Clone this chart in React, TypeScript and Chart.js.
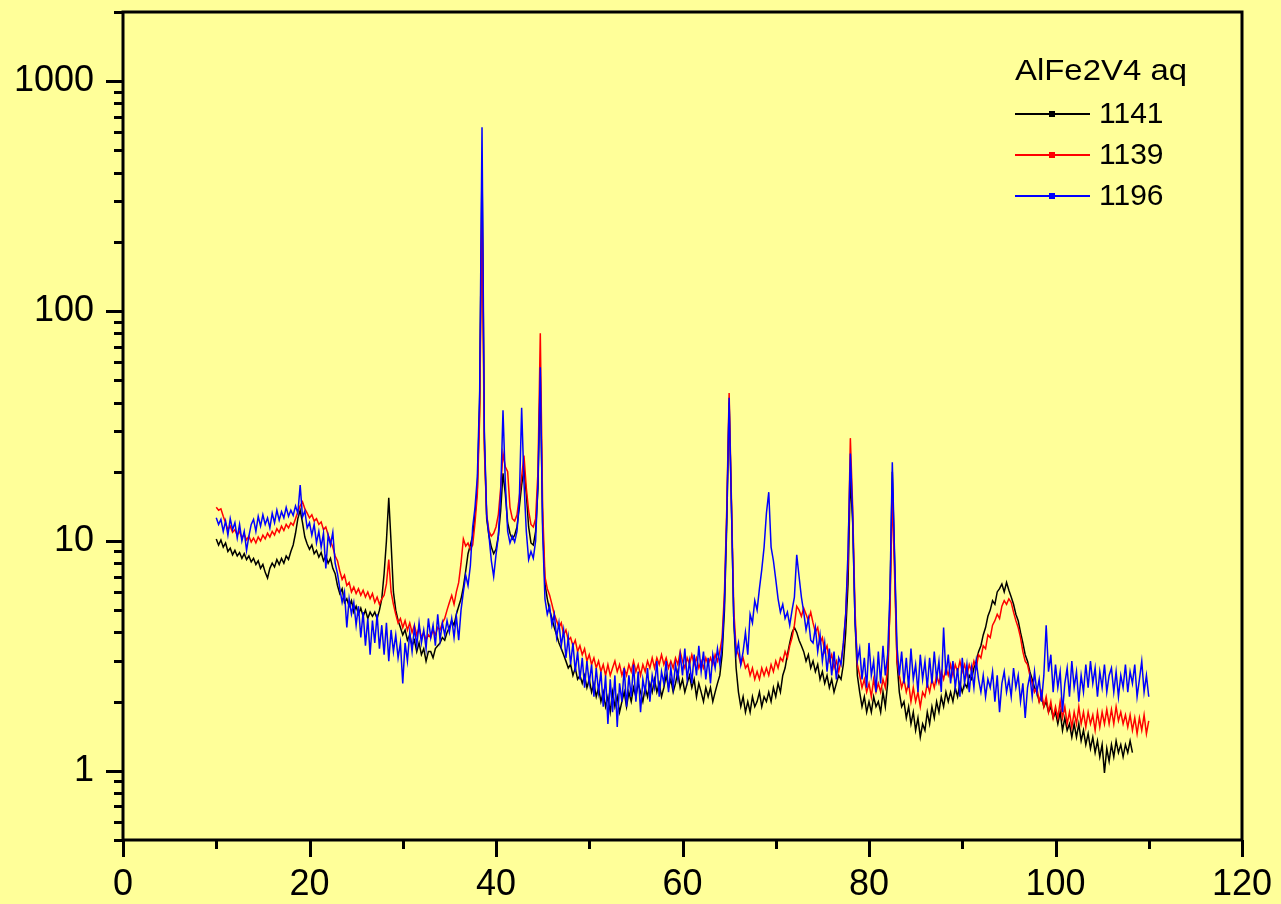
import React, { useEffect, useRef } from 'react';
import { Chart, registerables } from 'chart.js';

Chart.register(...registerables);

const START_ANGLE = 10;
const ANGLE_STEP = 0.25;

const legendTitle = 'AlFe2V4 aq';
const seriesNames = ['1141', '1139', '1196'];
const seriesColors = ['#000000', '#FF0000', '#0000FF'];
const xTickValues = [0, 20, 40, 60, 80, 100, 120];
const yTickValues = [1, 10, 100, 1000];

const black1141 = [
  10.2, 9.6, 10.1, 9.4,
  9.8, 9.0, 9.3, 8.7,
  9.1, 8.6, 8.9, 8.4,
  8.8, 8.3, 8.6, 8.1,
  8.4, 7.9, 8.2, 7.6,
  7.9, 7.3, 6.9, 7.6,
  8.0, 7.7, 8.3, 7.9,
  8.4, 8.0, 8.6, 8.3,
  9.0, 9.6, 10.8, 12.5,
  13.6, 12.0, 10.4, 9.7,
  9.2, 9.6, 8.8, 9.1,
  8.5, 8.9, 8.2, 8.6,
  8.0, 8.4, 7.6, 7.2,
  6.4, 5.9, 6.2, 5.4,
  5.6, 5.2, 5.5, 4.9,
  5.2, 4.8, 5.1, 4.7,
  5.0, 4.6, 4.9, 4.7,
  4.9, 4.6, 5.0, 5.6,
  7.2, 10.0, 15.4, 9.8,
  6.0, 5.0, 4.5, 4.2,
  3.9, 4.1, 3.7, 3.9,
  3.5, 3.7, 3.3, 3.6,
  3.2, 3.4, 3.0, 3.3,
  3.3, 3.1, 3.4, 3.5,
  3.6, 3.8, 3.7, 4.0,
  4.2, 4.5, 4.3, 4.8,
  5.2, 5.6, 6.3, 7.4,
  8.8, 9.6, 10.5, 13.0,
  17.0, 40.0, 440, 28.0,
  12.5, 10.5, 9.4, 8.8,
  9.2, 10.5, 13.5, 19.7,
  16.0, 12.0, 10.8, 10.2,
  10.6, 11.5, 14.0, 17.5,
  20.7, 16.0, 11.5, 9.8,
  9.6, 11.0, 17.0, 52.0,
  12.0, 6.5, 5.6, 5.0,
  4.6, 4.2, 3.9, 3.6,
  3.4, 3.2, 3.0, 2.8,
  2.9, 2.6, 2.8, 2.5,
  2.6, 2.4, 2.6, 2.3,
  2.5, 2.2, 2.4, 2.1,
  2.3, 2.0, 2.2, 1.9,
  2.1, 1.8, 2.2, 1.9,
  2.1, 1.8, 2.0, 2.2,
  1.9, 2.2, 2.0, 2.3,
  2.1, 2.4, 2.2, 2.0,
  2.3, 2.1, 2.4, 2.2,
  2.5, 2.2, 2.4, 2.1,
  2.3, 2.6, 2.3, 2.5,
  2.2, 2.4, 2.7, 2.3,
  2.5, 2.2, 2.4, 2.6,
  2.3, 2.5, 2.1, 2.4,
  2.2, 2.0, 2.3, 2.1,
  2.3, 2.0, 2.2, 2.4,
  2.6, 3.2, 5.0, 12.0,
  40.0, 14.0, 4.5, 2.8,
  2.2, 1.9, 2.1, 1.8,
  2.0, 1.8, 2.1, 1.9,
  2.0, 2.2, 1.9, 2.1,
  2.0, 2.2, 2.0, 2.3,
  2.1, 2.4, 2.2, 2.6,
  2.8, 3.2, 3.6, 4.0,
  4.2, 4.0, 3.7, 3.5,
  3.3, 3.0, 3.2, 2.8,
  3.0, 2.7, 2.9, 2.5,
  2.7, 2.4, 2.6, 2.3,
  2.5, 2.2, 2.4, 2.6,
  2.5, 2.9, 4.0, 6.5,
  19.0, 12.0, 4.5, 2.6,
  2.2, 1.9, 2.1, 1.8,
  2.0, 1.8, 2.1, 1.9,
  2.0, 1.8, 2.2, 1.9,
  2.4, 5.5, 20.0, 8.0,
  3.0, 2.2, 1.9, 2.0,
  1.7, 1.9, 1.6, 1.8,
  1.5, 1.7, 1.4, 1.6,
  1.5, 1.8, 1.6, 1.9,
  1.7, 2.0, 1.8, 2.1,
  1.9, 2.2, 2.0, 2.2,
  2.0, 2.3, 2.1, 2.4,
  2.2, 2.4, 2.3, 2.6,
  2.5, 2.8, 3.0, 3.3,
  3.5, 3.9, 4.2, 4.7,
  5.0, 5.5, 5.3, 6.0,
  6.2, 6.5, 6.0, 6.6,
  6.1, 5.7, 5.3, 4.8,
  4.5, 4.0, 3.6, 3.2,
  3.0, 2.7, 2.5, 2.3,
  2.2, 2.0, 2.1, 1.9,
  2.0, 1.8, 1.9, 1.7,
  1.8, 1.6, 1.8, 1.5,
  1.7, 1.5, 1.6, 1.4,
  1.6, 1.4, 1.6, 1.35,
  1.5, 1.3, 1.45, 1.25,
  1.4, 1.2, 1.35, 1.15,
  1.3, 0.98, 1.25, 1.1,
  1.3, 1.15, 1.35, 1.2,
  1.3, 1.15, 1.3, 1.2,
  1.35, 1.2,
];

const red1139 = [
  14.0, 13.6, 13.8, 12.8,
  12.0, 11.2, 11.6, 10.9,
  11.2, 10.6, 11.0, 10.3,
  10.7, 10.1, 10.5, 9.9,
  10.3, 9.8, 10.4, 10.0,
  10.6, 10.2, 10.8, 10.4,
  11.0, 10.6, 11.3, 10.9,
  11.6, 11.1, 11.8, 11.4,
  12.0, 11.7, 12.5, 13.4,
  14.2, 14.8, 13.8, 13.2,
  12.6, 13.0, 12.2, 12.5,
  11.8, 12.1, 11.2, 11.5,
  10.6, 10.0, 9.4, 8.6,
  8.2, 7.4, 6.8, 7.1,
  6.4, 6.6, 6.0, 6.3,
  5.9, 6.2, 5.8, 6.1,
  5.7, 6.0, 5.6, 5.9,
  5.4, 5.7, 5.3, 5.6,
  5.8, 6.5, 8.3, 6.0,
  5.3, 4.8, 4.4, 4.6,
  4.2, 4.5, 4.1, 4.4,
  4.0, 4.3, 3.9, 4.2,
  3.8, 4.0, 3.7, 3.9,
  3.8, 4.1, 3.9, 4.2,
  4.1, 4.4, 4.6, 5.0,
  5.4, 5.8, 5.3, 6.0,
  6.6, 8.0, 10.2, 9.5,
  9.8, 9.2, 9.6, 12.0,
  16.0, 35.0, 285, 25.0,
  13.0, 11.0, 10.5, 10.8,
  11.5, 13.0, 17.0, 24.0,
  21.0, 20.0, 14.0, 12.5,
  12.2, 13.0, 15.5, 19.0,
  23.5, 17.0, 13.5, 11.8,
  11.5, 12.5, 20.0, 80.0,
  14.0, 7.0, 6.2, 5.8,
  5.3, 4.8, 4.5, 4.2,
  4.4, 3.9, 4.1, 3.7,
  3.8, 3.5, 3.7, 3.3,
  3.5, 3.2, 3.4, 3.0,
  3.2, 2.9, 3.1, 2.8,
  3.0, 2.7, 2.9, 2.6,
  2.9, 2.6, 2.8, 3.0,
  2.7, 2.9, 2.6, 2.8,
  2.6, 2.9, 2.7, 3.0,
  2.7, 2.9, 2.6, 2.9,
  2.7, 3.0, 2.8, 3.1,
  2.8, 3.1, 2.9, 3.2,
  2.9, 3.1, 2.8, 3.0,
  2.8, 3.1, 2.9, 3.3,
  3.0, 2.8, 3.1, 2.9,
  3.2, 2.9, 3.1, 2.8,
  3.0, 2.8, 3.1, 2.9,
  3.1, 2.9, 3.2, 3.0,
  3.3, 3.8, 6.0, 14.0,
  44.0, 15.0, 5.0, 3.4,
  3.2, 2.9, 3.1, 2.8,
  2.9, 2.6, 2.8, 2.5,
  2.7, 2.5, 2.8, 2.6,
  2.8, 2.6, 2.9, 2.7,
  3.0, 2.8, 3.1, 3.0,
  3.3, 3.1, 3.5, 3.8,
  4.3, 5.2, 5.0, 4.7,
  5.1, 4.8, 4.5, 4.9,
  4.4, 4.0, 4.2, 3.6,
  3.8, 3.3, 3.5, 3.0,
  3.2, 2.8, 3.0, 2.7,
  3.0, 3.5, 4.8, 8.0,
  28.0, 14.0, 5.0, 2.9,
  2.6, 2.3, 2.5, 2.2,
  2.4, 2.1, 2.5, 2.2,
  2.4, 2.2, 2.5, 2.3,
  2.8, 5.0, 16.0, 7.0,
  3.0, 2.6, 2.3, 2.5,
  2.2, 2.4, 2.0, 2.3,
  2.0, 2.2, 1.9, 2.2,
  2.1, 2.4, 2.2, 2.5,
  2.3, 2.6, 2.4, 2.7,
  2.5, 2.8, 2.6, 2.9,
  2.6, 2.9, 2.7, 3.0,
  2.7, 2.9, 2.6, 2.9,
  2.7, 3.0, 2.8, 3.2,
  3.1, 3.5, 3.4, 3.9,
  3.8, 4.3, 4.5, 4.8,
  4.6, 5.2, 5.5, 5.3,
  5.6, 5.4, 4.9, 4.5,
  4.2, 3.8, 3.3, 3.0,
  2.9, 2.6, 2.4, 2.2,
  2.3, 2.0, 2.2, 1.9,
  2.1, 1.8, 2.0, 1.7,
  1.9, 1.7, 2.0, 1.7,
  1.9, 1.6, 1.8, 1.55,
  1.8, 1.6, 1.9, 1.6,
  1.8, 1.55, 1.8, 1.6,
  1.75, 1.5, 1.8, 1.55,
  1.8, 1.6, 1.85, 1.6,
  1.85, 1.6, 1.9, 1.65,
  1.8, 1.6, 1.75, 1.55,
  1.75, 1.5, 1.7, 1.45,
  1.7, 1.5, 1.75, 1.45,
  1.65,
];

const blue1196 = [
  12.6, 11.8, 12.4, 11.0,
  12.2, 10.6, 12.5, 11.2,
  12.0, 10.3, 11.8, 10.0,
  11.0, 9.1, 10.5, 11.8,
  12.4, 11.0, 12.8, 11.6,
  13.0, 11.8, 12.6, 11.4,
  13.2, 12.0, 13.6, 12.3,
  13.4, 12.6, 14.0, 12.8,
  13.6, 12.9, 14.2, 13.2,
  17.5, 12.7, 13.5, 11.4,
  12.0, 10.6, 11.8, 9.8,
  11.0, 9.4, 10.8, 7.6,
  10.6, 9.6, 10.9, 8.0,
  7.2, 6.2, 5.4, 6.0,
  4.2, 5.6, 4.8, 5.4,
  4.3, 5.2, 3.8, 4.9,
  3.5, 4.6, 3.2, 4.5,
  3.6, 4.8, 3.4, 4.3,
  3.2, 4.4, 3.0, 4.1,
  3.3, 3.9, 3.1, 3.6,
  2.4, 3.6, 3.0, 4.0,
  3.3, 4.2, 3.5, 4.4,
  3.6, 4.1, 3.4, 4.6,
  3.8, 4.3, 3.5, 4.8,
  3.7, 4.4, 3.9, 4.5,
  4.0, 4.6, 3.8, 4.7,
  3.7, 5.0, 6.0, 7.1,
  6.4, 7.8, 11.5, 14.0,
  19.0, 45.0, 630, 30.0,
  13.0, 10.5, 8.2, 7.0,
  8.7, 10.5, 16.0, 37.0,
  18.0, 11.0, 9.8, 10.5,
  9.9, 11.0, 15.0, 38.0,
  18.0, 11.0, 8.3, 9.0,
  8.4, 10.0, 18.0, 57.0,
  11.0, 5.6, 4.8, 5.2,
  4.3, 4.8, 3.8, 4.4,
  3.5, 4.1, 3.1, 3.8,
  2.9, 3.6, 2.7, 3.3,
  2.5, 3.1, 2.3, 3.0,
  2.4, 2.9, 2.1, 2.8,
  2.2, 2.7, 1.9, 2.6,
  1.6, 2.5, 1.8, 2.6,
  1.55, 2.4, 2.0, 2.8,
  1.9, 2.6, 2.1, 2.9,
  2.0, 2.7, 1.8, 2.5,
  2.2, 2.8, 2.0, 2.6,
  2.3, 3.0, 2.1, 2.7,
  2.4, 3.0, 2.2, 2.8,
  2.3, 2.9, 2.5, 3.2,
  2.6, 3.4, 2.5, 3.0,
  2.4, 3.2, 2.6, 3.5,
  2.7, 3.3, 2.5, 3.1,
  2.4, 3.2, 2.8, 3.4,
  2.9, 3.5, 5.5, 13.0,
  42.0, 14.0, 4.5, 3.2,
  3.6, 2.9, 3.3, 4.0,
  3.2, 4.8, 4.4, 5.5,
  5.0, 6.2, 7.5, 9.4,
  13.2, 16.3, 9.4, 8.2,
  6.8, 5.6, 4.9, 5.3,
  4.6, 4.9, 4.3, 5.0,
  5.7, 8.7, 7.0, 5.7,
  4.9, 4.1, 4.6, 3.7,
  3.6, 4.2, 3.3, 3.9,
  3.0, 3.6, 2.7, 3.4,
  2.6, 3.3, 2.5, 3.1,
  2.9, 3.6, 4.8, 9.0,
  24.0, 13.0, 4.5, 3.0,
  3.4, 2.5, 3.1, 2.3,
  3.6, 2.6, 3.0, 2.2,
  3.3, 2.4, 3.5, 2.6,
  3.2, 6.0, 22.0, 8.5,
  3.5, 2.6, 3.3, 2.4,
  3.1, 2.3, 3.4, 2.5,
  2.9, 2.2, 3.2, 2.5,
  3.0, 2.3, 3.1, 2.4,
  3.3, 2.5, 3.0, 2.2,
  4.2, 2.6, 3.2, 2.4,
  3.0, 2.3, 2.8, 2.1,
  3.1, 2.4, 2.9, 2.2,
  2.8, 2.3, 3.0, 2.5,
  2.2, 2.6, 2.1, 2.5,
  2.3, 2.7, 2.0, 2.6,
  1.8, 2.4, 2.7, 2.2,
  2.5, 2.1, 2.8, 2.3,
  2.6, 2.0, 2.4, 1.7,
  2.3, 2.6, 2.1, 2.7,
  2.2, 2.5, 2.0, 2.6,
  4.3, 2.7, 3.2, 2.2,
  2.9, 2.3, 2.7, 1.8,
  2.4, 2.8, 2.1, 3.0,
  2.3, 2.7, 2.0, 2.6,
  2.2, 2.9, 2.3, 3.0,
  2.4, 2.8, 2.1, 2.7,
  2.3, 2.9, 2.2, 2.6,
  2.8, 2.2, 2.7, 2.1,
  2.6, 2.3, 2.9, 2.2,
  2.7, 2.4, 2.9, 2.1,
  2.5, 3.0, 2.2, 2.6,
  2.1,
];

const seriesValues = [black1141, red1139, blue1196];

function toPoints(values: number[]) {
  return values.map((v, i) => ({ x: START_ANGLE + i * ANGLE_STEP, y: v }));
}

const FONT = '"Liberation Sans", Arial, Helvetica, sans-serif';

function zeroPadding(scale: any) {
  scale.paddingTop = 0;
  scale.paddingBottom = 0;
  scale.paddingLeft = 0;
  scale.paddingRight = 0;
}

const framePlugin = {
  id: 'frameAndLegend',
  afterDraw(chart: any) {
    const { ctx, chartArea: a, scales } = chart;
    const xs = scales.x;
    const ys = scales.y;
    ctx.save();
    ctx.strokeStyle = '#000000';
    ctx.lineWidth = 3;
    ctx.lineCap = 'butt';
    ctx.strokeRect(a.left, a.top, a.right - a.left, a.bottom - a.top);

    // y ticks (log, outward to the left)
    ctx.beginPath();
    const decades = [0.1, 1, 10, 100, 1000];
    for (const d of decades) {
      for (let m = 1; m <= 9; m++) {
        const v = d * m;
        if (v < 0.5 - 1e-9 || v > 2000 + 1e-9) continue;
        const y = Math.round(ys.getPixelForValue(v)) + 0.5;
        const len = m === 1 ? 17 : 9;
        ctx.moveTo(a.left, y);
        ctx.lineTo(a.left - len, y);
      }
    }
    ctx.stroke();

    // x ticks (outward downward)
    ctx.beginPath();
    for (let v = 0; v <= 120; v += 10) {
      const x = Math.round(xs.getPixelForValue(v)) + 0.5;
      const len = v % 20 === 0 ? 17 : 9;
      ctx.moveTo(x, a.bottom);
      ctx.lineTo(x, a.bottom + len);
    }
    ctx.stroke();

    // legend
    ctx.fillStyle = '#000000';
    ctx.textAlign = 'left';
    ctx.textBaseline = 'middle';
    ctx.font = `30px ${FONT}`;
    const titleW = ctx.measureText(legendTitle).width;
    ctx.save();
    ctx.translate(1015, 72);
    ctx.scale(172 / titleW, 1);
    ctx.fillText(legendTitle, 0, 0);
    ctx.restore();
    const rowY = [114, 155, 196];
    seriesNames.forEach((name, i) => {
      const y = rowY[i];
      ctx.strokeStyle = seriesColors[i];
      ctx.lineWidth = 2;
      ctx.beginPath();
      ctx.moveTo(1015, y);
      ctx.lineTo(1090, y);
      ctx.stroke();
      ctx.fillStyle = seriesColors[i];
      ctx.fillRect(1049, y - 3, 6, 6);
      ctx.fillStyle = '#000000';
      ctx.fillText(name, 1099, y + 1);
    });
    ctx.restore();
  },
};

export default function App() {
  const canvasRef = useRef<HTMLCanvasElement | null>(null);

  useEffect(() => {
    const canvas = canvasRef.current;
    if (!canvas) return;
    const chart = new Chart(canvas, {
      type: 'line',
      data: {
        datasets: seriesValues.map((vals, i) => ({
          label: seriesNames[i],
          data: toPoints(vals),
          borderColor: seriesColors[i],
          backgroundColor: seriesColors[i],
          borderWidth: 1.5,
          pointRadius: 0,
          tension: 0,
          fill: false,
          order: 3 - i,
        })),
      },
      options: {
        responsive: false,
        animation: false,
        events: [],
        layout: { padding: { left: 0, right: 39, top: 12, bottom: 0 } },
        plugins: { legend: { display: false }, tooltip: { enabled: false } },
        scales: {
          x: {
            type: 'linear',
            min: 0,
            max: 120,
            afterBuildTicks: (scale: any) => {
              scale.ticks = xTickValues.map((v) => ({ value: v }));
            },
            afterFit: (scale: any) => {
              scale.height = 64;
              zeroPadding(scale);
            },
            grid: { display: false, drawTicks: false },
            border: { display: false },
            ticks: {
              color: '#000000',
              font: { family: FONT, size: 36 },
              padding: 23,
              maxRotation: 0,
              autoSkip: false,
            },
          },
          y: {
            type: 'logarithmic',
            min: 0.5,
            max: 2000,
            afterBuildTicks: (scale: any) => {
              scale.ticks = yTickValues.map((v) => ({ value: v }));
            },
            afterFit: (scale: any) => {
              scale.width = 123;
              zeroPadding(scale);
            },
            grid: { display: false, drawTicks: false },
            border: { display: false },
            ticks: {
              color: '#000000',
              font: { family: FONT, size: 36 },
              padding: 29,
              autoSkip: false,
              callback: (v: any) => String(v),
            },
          },
        },
      },
      plugins: [framePlugin],
    });
    return () => chart.destroy();
  }, []);

  return (
    <div
      style={{
        position: 'fixed',
        left: 0,
        top: 0,
        width: 1281,
        height: 904,
        background: '#FFFF99',
        overflow: 'hidden',
      }}
    >
      <canvas ref={canvasRef} width={1281} height={904} style={{ display: 'block' }} />
    </div>
  );
}
